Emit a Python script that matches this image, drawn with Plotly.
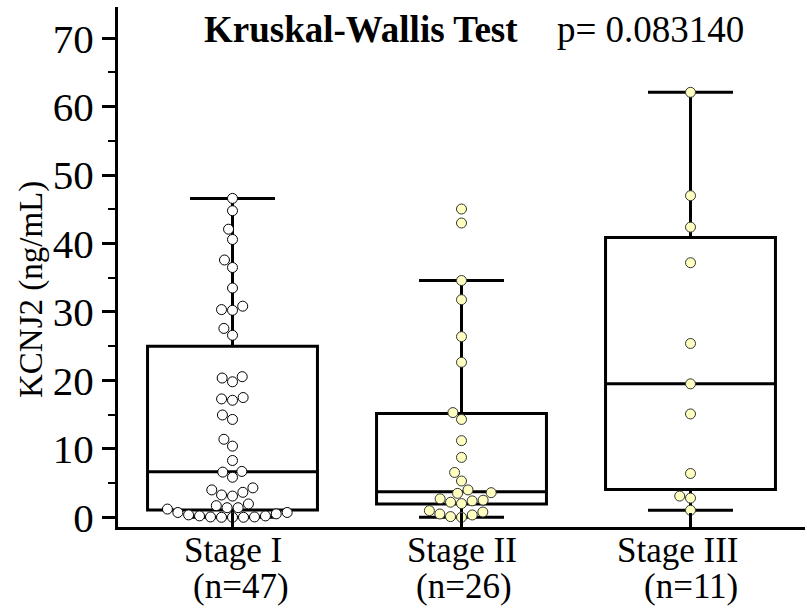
import numpy as np
import plotly.graph_objects as go

# ---------------- data ----------------
categories = ["Stage I", "Stage II", "Stage III"]
counts = [47, 26, 11]

stage1 = [0.0, 0.0, 0.0, 0.05, 0.05, 0.2, 0.2, 0.35, 0.5, 0.7, 0.7,
          1.2, 1.4, 1.4, 1.7, 1.95,
          3.1, 3.26, 3.65, 4.0, 4.3,
          5.85, 6.6, 6.7,
          8.3, 10.4, 11.4,
          14.3, 14.95,
          17.1, 17.3, 17.5,
          19.8, 20.35, 20.55,
          26.6, 27.6,
          30.25, 30.35, 30.85,
          33.5, 36.5, 37.6, 40.6, 42.1, 44.8, 46.6]
stage2 = [0.0, 0.1, 0.34, 0.48, 0.77, 0.97, 2.0, 2.2, 2.4, 2.5, 2.7,
          3.5, 3.6, 4.0, 5.3, 6.55, 8.75, 11.2, 14.3, 15.3, 22.65,
          26.4, 31.8, 34.6, 43.0, 45.05]
stage3 = [1.03, 2.8, 3.1, 6.4, 15.1, 19.5, 25.4, 37.2, 42.4, 47.0, 62.1]

lower_fence = [0.0, 0.0, 1.03]
q1 = [1.07, 1.94, 4.07]
median = [6.66, 3.74, 19.5]
q3 = [25.0, 15.15, 40.9]
upper_fence = [46.6, 34.6, 62.1]

y_ticks = [0, 10, 20, 30, 40, 50, 60, 70]
y_minor = [5, 15, 25, 35, 45, 55, 65]
test_name = "Kruskal-Wallis Test"
p_label = "p= 0.083140"
y_title = "KCNJ2 (ng/mL)"

# ---------------- layout geometry ----------------
W, H = 807, 615
ML, MR, MT, MB = 118, 2, 7, 88
yrange = [-1.42, 74.57]
xrange = [-0.5, 2.5]
plot_w = W - ML - MR
plot_h = H - MT - MB
px_x = plot_w / (xrange[1] - xrange[0])
px_y = plot_h / (yrange[1] - yrange[0])
DIAM = 11.0
FONT = "Liberation Serif, Times New Roman, serif"


def swarm_offsets(values):
    vals = np.asarray(values, dtype=float)
    order = np.argsort(vals, kind="stable")
    placed = []
    offs = np.zeros(len(vals))
    for i in order:
        y = vals[i] * px_y
        cands = [0.0]
        for xp, yp in placed:
            dy = abs(y - yp)
            if dy < DIAM:
                dx = np.sqrt(DIAM * DIAM - dy * dy)
                cands += [xp + dx, xp - dx]
        cands.sort(key=lambda c: (round(abs(c), 6), c))
        chosen = 0.0
        for c in cands:
            if all((c - xp) ** 2 + (y - yp) ** 2 >= DIAM * DIAM - 1e-6 for xp, yp in placed):
                chosen = c
                break
        placed.append((chosen, y))
        offs[i] = chosen
    return offs / px_x


def py(pix_from_top):
    """page pixel row -> paper y"""
    return (H - MB - pix_from_top) / plot_h


def px(pix_from_left):
    return (pix_from_left - ML) / plot_w


fig = go.Figure()

fig.add_trace(go.Box(
    x=[0, 1, 2], q1=q1, median=median, q3=q3,
    lowerfence=lower_fence, upperfence=upper_fence,
    width=0.742, whiskerwidth=0.5, boxpoints=False,
    line=dict(color="black", width=3),
    fillcolor="rgba(255,255,255,0)",
    hoverinfo="skip", showlegend=False,
))

groups = [stage1, stage2, stage3]
fills = ["white", "#FFFFC0", "#FFFFC0"]
edges = ["black", "#333333", "#333333"]
for k, vals in enumerate(groups):
    offs = swarm_offsets(vals)
    fig.add_trace(go.Scatter(
        x=k + offs, y=vals, mode="markers",
        marker=dict(size=DIAM - 1, color=fills[k],
                    line=dict(color=edges[k], width=1)),
        hoverinfo="skip", showlegend=False,
    ))

annotations = [
    dict(text=f"<b>{test_name}</b>", xref="paper", yref="paper",
         x=px(361), y=py(30), xanchor="center", yanchor="middle",
         showarrow=False, font=dict(family=FONT, size=37, color="black")),
    dict(text=p_label, xref="paper", yref="paper",
         x=px(650), y=py(30), xanchor="center", yanchor="middle",
         showarrow=False, font=dict(family=FONT, size=37, color="black")),
    dict(text=y_title, xref="paper", yref="paper",
         x=px(31), y=py(290), xanchor="center", yanchor="middle",
         showarrow=False, textangle=-90,
         font=dict(family=FONT, size=33, color="black")),
]
# category labels: name line and count line
name_shift = [0.0, 0.0, -0.055]
count_shift = [0.035, 0.01, 0.0]
for k, (c, n) in enumerate(zip(categories, counts)):
    annotations.append(dict(text=c, xref="x", yref="paper", x=k + name_shift[k],
                            y=py(550), xanchor="center", yanchor="middle",
                            showarrow=False,
                            font=dict(family=FONT, size=35, color="black")))
    annotations.append(dict(text=f"(n={n})", xref="x", yref="paper",
                            x=k + count_shift[k], y=py(586),
                            xanchor="center", yanchor="middle", showarrow=False,
                            font=dict(family=FONT, size=35, color="black")))

fig.update_layout(
    width=W, height=H,
    margin=dict(l=ML, r=MR, t=MT, b=MB, pad=0),
    paper_bgcolor="white", plot_bgcolor="white",
    font=dict(family=FONT, color="black"),
    xaxis=dict(range=xrange, tickvals=[0, 1, 2], showticklabels=False,
               ticks="inside", ticklen=14, tickwidth=2.5, tickcolor="black",
               showline=True, linewidth=3, linecolor="black",
               showgrid=False, zeroline=False),
    yaxis=dict(range=yrange, tickvals=y_ticks,
               ticks="outside", ticklen=13, tickwidth=2.5, tickcolor="black",
               minor=dict(tickvals=y_minor, ticks="outside", ticklen=7,
                          tickwidth=2, tickcolor="black"),
               showline=True, linewidth=3, linecolor="black",
               showgrid=False, zeroline=False,
               tickfont=dict(family=FONT, size=41, color="black")),
    annotations=annotations,
)

fig.write_html("out.html", config={"displayModeBar": False},
               post_script="document.body.style.margin='0px';")
